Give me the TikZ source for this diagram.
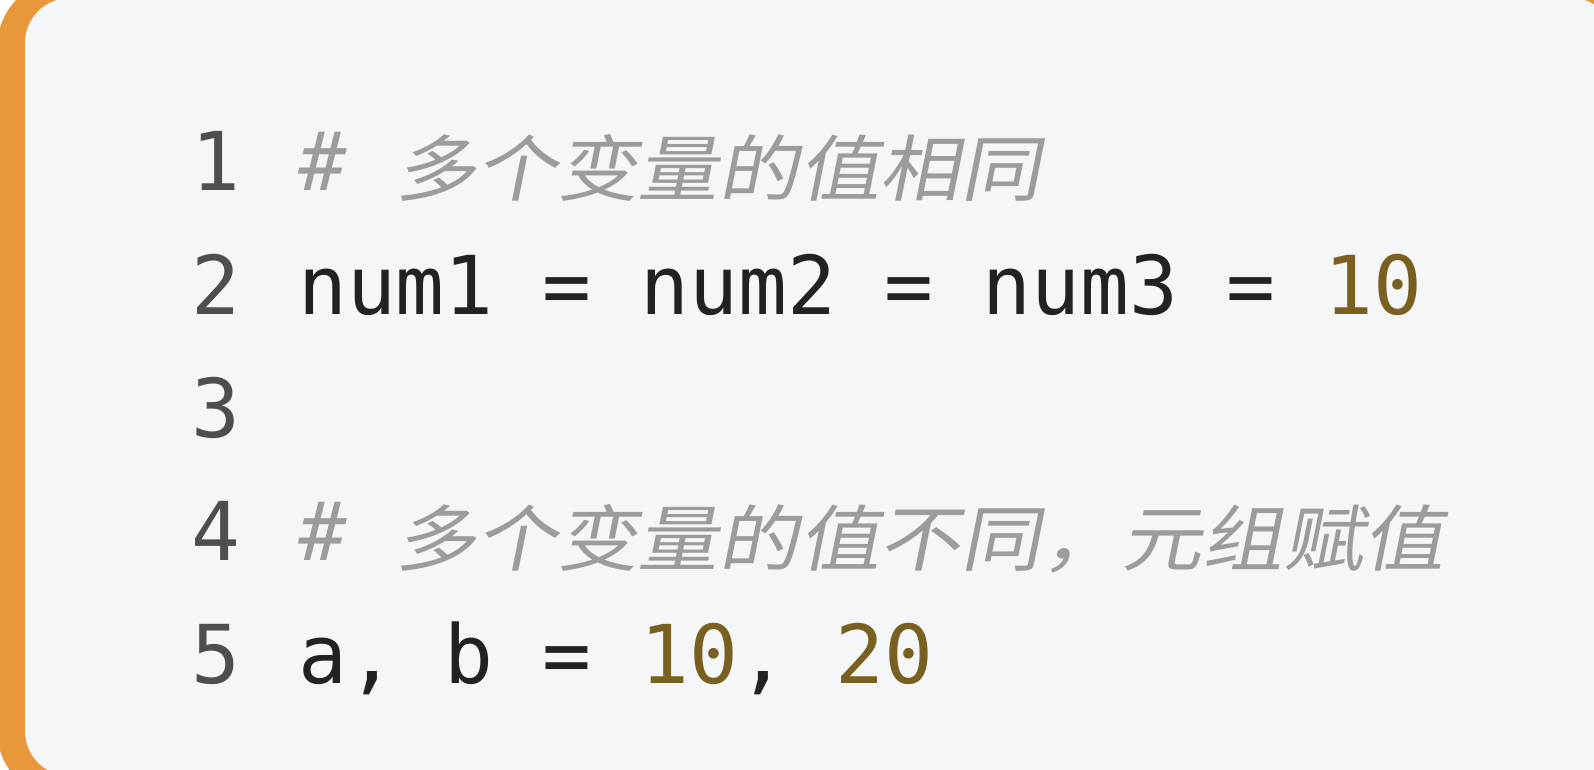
\documentclass[tikz,border=0pt]{standalone}
\usepackage{fontspec}
\setmonofont{DejaVu Sans Mono}
\newfontfamily\cjkfont{Noto Sans CJK SC}[FakeSlant=0.2,FakeStretch=1.12]
\definecolor{framec}{HTML}{E8973A}
\definecolor{panelc}{HTML}{F5F6F8}
\definecolor{codec}{HTML}{222222}
\definecolor{linenoc}{HTML}{4E4E4E}
\definecolor{commentc}{HTML}{9C9C9C}
\definecolor{numc}{HTML}{7A6020}
\newcommand{\cjktext}[1]{\raisebox{-5pt}{\cjkfont\fontsize{72}{86}\selectfont #1}}
\tikzset{
  codetext/.style={anchor=base west, inner sep=0pt, font=\ttfamily\fontsize{81.2}{96}\selectfont, text=codec},
  linenotext/.style={codetext, text=linenoc},
  commenttext/.style={codetext, text=commentc, font=\ttfamily\itshape\fontsize{81.2}{96}\selectfont}
}
\begin{document}
\begin{tikzpicture}[x=1pt,y=-1pt]
\useasboundingbox (0,0) rectangle (1594,769);
\clip (0,0) rectangle (1594,769);
\fill[white] (0,0) rectangle (1594,769);
\fill[framec, rounded corners=70pt] (-3,-22) rectangle (1640,800);
\fill[panelc, rounded corners=45pt] (25,-2) rectangle (1616,776);
% line numbers
\node[linenotext] (n1) at (191,190) {1};
\node[linenotext] (n2) at (191,314) {2};
\node[linenotext] (n3) at (191,437) {3};
\node[linenotext] (n4) at (191,560) {4};
\node[linenotext] (n5) at (191,683) {5};
% code lines
\node[commenttext] (c1) at (298,190) {\# \cjktext{多个变量的值相同}};
\node[codetext] (c2) at (298,314) {num1 = num2 = num3 = \textcolor{numc}{10}};
\node[commenttext] (c4) at (298,560) {\# \cjktext{多个变量的值不同，元组赋值}};
\node[codetext] (c5) at (298,683) {a, b = \textcolor{numc}{10}, \textcolor{numc}{20}};
\end{tikzpicture}
\end{document}
